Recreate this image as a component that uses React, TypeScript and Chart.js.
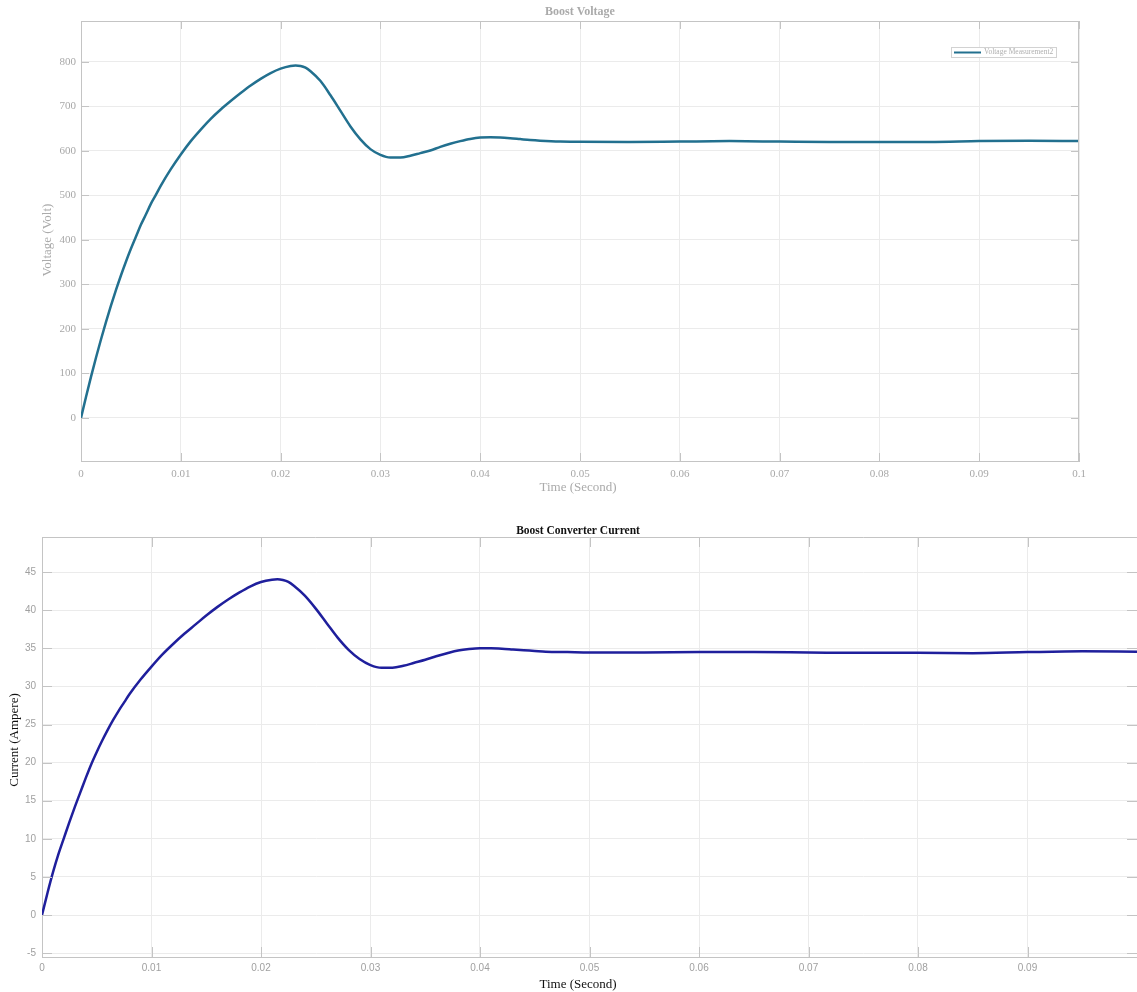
import React, { useEffect, useRef } from "react";
import { Chart, registerables } from "chart.js";
Chart.register(...registerables);

// ---------- DATA ----------
const timeV = [
  0, 0.0005, 0.001, 0.0015, 0.002, 0.0025, 0.003, 0.0035, 0.004, 0.0045, 0.005, 0.0055, 0.006, 0.0065,
  0.007, 0.0075, 0.008, 0.009, 0.01, 0.011, 0.012, 0.013, 0.014, 0.015, 0.016, 0.017, 0.018, 0.019,
  0.02, 0.021, 0.0215, 0.022, 0.0225, 0.023, 0.024, 0.025, 0.026, 0.027, 0.028, 0.029, 0.03, 0.031,
  0.032, 0.033, 0.034, 0.035, 0.036, 0.037, 0.038, 0.039, 0.04, 0.041, 0.042, 0.043, 0.044, 0.045,
  0.046, 0.048, 0.05, 0.055, 0.06, 0.065, 0.07, 0.075, 0.08, 0.085, 0.09, 0.095, 0.1,
];
const voltage = [
  0, 47, 92, 135, 176, 215, 252, 287, 320, 351, 380, 407, 434, 457,
  481, 501, 522, 559, 592, 622, 648, 672, 693, 712, 730, 747, 762, 775,
  785, 791, 792, 791, 787, 779, 757, 725, 690, 655, 626, 604, 591, 585,
  585, 589, 595, 601, 609, 616, 622, 627, 630, 630.5, 630, 628.5, 626.5, 624.5,
  623, 621, 620.5, 620, 621, 622, 621, 620, 620, 620, 622, 623, 622,
];
const timeI = [
  0, 0.0005, 0.001, 0.0015, 0.002, 0.0025, 0.003, 0.0035, 0.004, 0.0045, 0.005, 0.0055, 0.006, 0.0065,
  0.007, 0.0075, 0.008, 0.009, 0.01, 0.011, 0.012, 0.013, 0.014, 0.015, 0.016, 0.017, 0.018, 0.019,
  0.02, 0.021, 0.0215, 0.022, 0.0225, 0.023, 0.024, 0.025, 0.026, 0.027, 0.028, 0.029, 0.03, 0.031,
  0.032, 0.033, 0.034, 0.035, 0.036, 0.037, 0.038, 0.039, 0.04, 0.041, 0.042, 0.043, 0.044, 0.045,
  0.046, 0.048, 0.05, 0.055, 0.06, 0.065, 0.07, 0.075, 0.08, 0.085, 0.09, 0.095, 0.1,
];
const current = [
  0, 2.9, 5.6, 8, 10.1, 12.2, 14.2, 16.1, 18, 19.8, 21.4, 22.9, 24.3, 25.6,
  26.8, 27.9, 29, 30.9, 32.6, 34.2, 35.6, 36.9, 38.1, 39.3, 40.4, 41.4, 42.3, 43.1,
  43.7, 44, 44.05, 43.95, 43.7, 43.2, 41.9, 40.2, 38.3, 36.4, 34.8, 33.6, 32.8, 32.45,
  32.45, 32.7, 33.1, 33.5, 33.95, 34.35, 34.7, 34.9, 35, 35, 34.95, 34.85, 34.75, 34.65,
  34.55, 34.5, 34.45, 34.45, 34.5, 34.5, 34.45, 34.4, 34.4, 34.35, 34.5, 34.6, 34.55,
];
const timeTicks = [0, 0.01, 0.02, 0.03, 0.04, 0.05, 0.06, 0.07, 0.08, 0.09, 0.1];
const voltageTicks = [0, 100, 200, 300, 400, 500, 600, 700, 800];
const currentTicks = [-5, 0, 5, 10, 15, 20, 25, 30, 35, 40, 45];

// ---------- STYLE ----------
const SERIF = '"Liberation Serif", "Times New Roman", serif';
const SANS = '"Liberation Sans", Arial, sans-serif';
const GRID = "#ebebeb";
const AXIS = "#c4c4c4";

type Spec = {
  width: number;
  height: number;
  area: { left: number; top: number; right: number; bottom: number };
  xs: number[];
  ys: number[];
  label: string;
  color: string;
  yMin: number;
  yMax: number;
  yTicks: number[];
  tickFamily: string;
  tickSize: number;
  tickColor: string;
  yTickPad: number;
  xTickPad: number;
  tickLen: number;
  showLastX: boolean;
  boxRight: boolean;
  title: string;
  titlePos: [number, number];
  titleFont: string;
  titleColor: string;
  xLabel: string;
  xLabelPos: [number, number];
  yLabel: string;
  yLabelPos: [number, number];
  labelFont: string;
  labelColor: string;
  legend: boolean;
};

function fmt(v: number) {
  return String(Number(v.toFixed(3)));
}

function makeChart(canvas: HTMLCanvasElement, s: Spec) {
  const framePlugin = {
    id: "frame",
    afterDraw(chart: any) {
      const ctx = chart.ctx as CanvasRenderingContext2D;
      const { left, top, right, bottom } = chart.chartArea;
      const xs = chart.scales.x;
      const ys = chart.scales.y;
      ctx.save();
      ctx.strokeStyle = AXIS;
      ctx.lineWidth = 1;
      ctx.beginPath();
      ctx.moveTo(left, top + 0.5);
      ctx.lineTo(right, top + 0.5);
      if (s.boxRight) {
        ctx.moveTo(right - 0.5, top);
        ctx.lineTo(right - 0.5, bottom);
      }
      timeTicks.forEach((v) => {
        const px = Math.round(xs.getPixelForValue(v)) + 0.5;
        ctx.moveTo(px, bottom);
        ctx.lineTo(px, bottom - s.tickLen);
        ctx.moveTo(px, top);
        ctx.lineTo(px, top + s.tickLen);
      });
      s.yTicks.forEach((v) => {
        const py = Math.round(ys.getPixelForValue(v)) + 0.5;
        ctx.moveTo(left, py);
        ctx.lineTo(left + s.tickLen, py);
        ctx.moveTo(right, py);
        ctx.lineTo(right - s.tickLen, py);
      });
      ctx.stroke();

      ctx.textAlign = "center";
      ctx.textBaseline = "middle";
      ctx.fillStyle = s.titleColor;
      ctx.font = s.titleFont;
      ctx.fillText(s.title, s.titlePos[0], s.titlePos[1]);

      ctx.fillStyle = s.labelColor;
      ctx.font = s.labelFont;
      ctx.fillText(s.xLabel, s.xLabelPos[0], s.xLabelPos[1]);
      ctx.save();
      ctx.translate(s.yLabelPos[0], s.yLabelPos[1]);
      ctx.rotate(-Math.PI / 2);
      ctx.fillText(s.yLabel, 0, 0);
      ctx.restore();

      if (s.legend) {
        ctx.fillStyle = "#ffffff";
        ctx.fillRect(951, 47, 106, 11);
        ctx.strokeStyle = "#d2d2d2";
        ctx.strokeRect(951.5, 47.5, 105, 10);
        ctx.strokeStyle = s.color;
        ctx.lineWidth = 2;
        ctx.beginPath();
        ctx.moveTo(954, 52.5);
        ctx.lineTo(981, 52.5);
        ctx.stroke();
        ctx.fillStyle = "#b0b0b0";
        ctx.font = `7.5px ${SERIF}`;
        ctx.textAlign = "left";
        ctx.fillText(s.label, 984, 52.5);
      }
      ctx.restore();
    },
  };

  return new Chart(canvas, {
    type: "line",
    data: {
      datasets: [
        {
          label: s.label,
          data: s.xs.map((x, i) => ({ x, y: s.ys[i] })),
          borderColor: s.color,
          borderWidth: 2.5,
          pointRadius: 0,
          fill: false,
          cubicInterpolationMode: "monotone",
        },
      ],
    },
    options: {
      responsive: false,
      animation: false,
      events: [],
      layout: {
        padding: { top: s.area.top, left: 0, right: s.width - s.area.right, bottom: 0 },
      },
      plugins: {
        legend: { display: false },
        title: { display: false },
        tooltip: { enabled: false },
      },
      scales: {
        x: {
          type: "linear",
          min: 0,
          max: 0.1,
          afterFit: (sc: any) => {
            sc.height = s.height - s.area.bottom;
            sc.paddingLeft = 0;
            sc.paddingRight = 0;
          },
          afterBuildTicks: (sc: any) => {
            sc.ticks = timeTicks.map((v) => ({ value: v }));
          },
          grid: { color: GRID, drawTicks: false, lineWidth: 1 },
          border: { color: AXIS, width: 1 },
          ticks: {
            autoSkip: false,
            maxRotation: 0,
            padding: s.xTickPad,
            color: s.tickColor,
            font: { family: s.tickFamily, size: s.tickSize },
            callback: (v: any) => (!s.showLastX && v >= 0.1 ? "" : fmt(Number(v))),
          },
        },
        y: {
          type: "linear",
          min: s.yMin,
          max: s.yMax,
          afterFit: (sc: any) => {
            sc.width = s.area.left;
            sc.paddingTop = 0;
            sc.paddingBottom = 0;
          },
          afterBuildTicks: (sc: any) => {
            sc.ticks = s.yTicks.map((v) => ({ value: v }));
          },
          grid: { color: GRID, drawTicks: false, lineWidth: 1 },
          border: { color: AXIS, width: 1 },
          ticks: {
            padding: s.yTickPad,
            color: s.tickColor,
            font: { family: s.tickFamily, size: s.tickSize },
            callback: (v: any) => fmt(Number(v)),
          },
        },
      },
    },
    plugins: [framePlugin],
  } as any);
}

const topSpec: Spec = {
  width: 1137,
  height: 500,
  area: { left: 81, top: 21, right: 1079, bottom: 461 },
  xs: timeV,
  ys: voltage,
  label: "Voltage Measurement2",
  color: "#22708f",
  yMin: -97,
  yMax: 892,
  yTicks: voltageTicks,
  tickFamily: SERIF,
  tickSize: 11,
  tickColor: "#a8a8a8",
  yTickPad: 5,
  xTickPad: 7,
  tickLen: 8,
  showLastX: true,
  boxRight: true,
  title: "Boost Voltage",
  titlePos: [580, 12],
  titleFont: `bold 12px ${SERIF}`,
  titleColor: "#aaaaaa",
  xLabel: "Time (Second)",
  xLabelPos: [578, 488],
  yLabel: "Voltage (Volt)",
  yLabelPos: [48, 240],
  labelFont: `13px ${SERIF}`,
  labelColor: "#ababab",
  legend: true,
};

const bottomSpec: Spec = {
  width: 1137,
  height: 492,
  area: { left: 42, top: 37, right: 1137, bottom: 457 },
  xs: timeI,
  ys: current,
  label: "Current",
  color: "#1f1f9c",
  yMin: -5.5,
  yMax: 49.6,
  yTicks: currentTicks,
  tickFamily: SANS,
  tickSize: 10,
  tickColor: "#a0a0a0",
  yTickPad: 6,
  xTickPad: 5,
  tickLen: 10,
  showLastX: false,
  boxRight: false,
  title: "Boost Converter Current",
  titlePos: [578, 31],
  titleFont: `bold 11.5px ${SERIF}`,
  titleColor: "#111111",
  xLabel: "Time (Second)",
  xLabelPos: [578, 485],
  yLabel: "Current (Ampere)",
  yLabelPos: [15, 240],
  labelFont: `13px ${SERIF}`,
  labelColor: "#111111",
  legend: false,
};

function Panel({ spec, top }: { spec: Spec; top: number }) {
  const ref = useRef<HTMLCanvasElement | null>(null);
  useEffect(() => {
    if (!ref.current) return;
    const c = makeChart(ref.current, spec);
    return () => c.destroy();
  }, [spec]);
  return (
    <canvas
      ref={ref}
      width={spec.width}
      height={spec.height}
      style={{ position: "absolute", left: 0, top, width: spec.width, height: spec.height, display: "block" }}
    />
  );
}

export default function App() {
  return (
    <div style={{ position: "absolute", left: 0, top: 0, width: 1137, height: 992, background: "#ffffff", overflow: "hidden" }}>
      <Panel spec={topSpec} top={0} />
      <Panel spec={bottomSpec} top={500} />
    </div>
  );
}
